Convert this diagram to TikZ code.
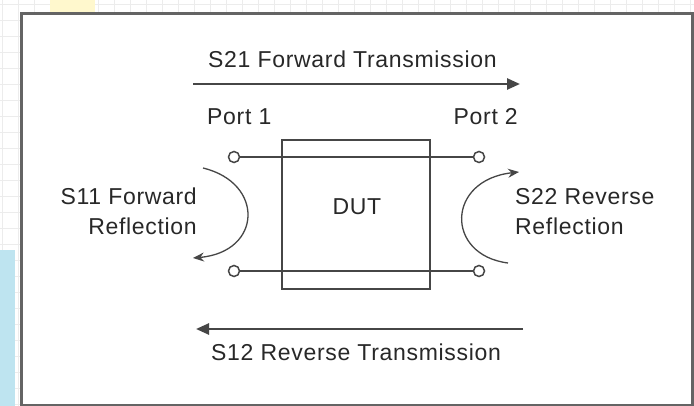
\documentclass[tikz,border=0pt]{standalone}
\usepackage{fontspec}
\setmainfont{Liberation Sans}[LetterSpace=3]
\usetikzlibrary{arrows.meta}
\definecolor{ink}{RGB}{40,40,40}
\definecolor{wire}{RGB}{70,70,70}
\definecolor{framec}{RGB}{100,100,100}
\definecolor{gridc}{RGB}{236,236,236}
\definecolor{paleblue}{RGB}{190,228,240}
\definecolor{paleyellow}{RGB}{255,248,205}
\begin{document}
\begin{tikzpicture}[x=1pt,y=-1pt,
  lbl/.style={font=\fontsize{23}{27}\selectfont, text=ink, inner sep=0pt},
  portc/.style={circle, draw=wire, line width=1.5pt, fill=white, minimum size=11pt, inner sep=0pt},
  wireline/.style={draw=wire, line width=2.5pt},
  bigarrow/.style={draw=wire, line width=2.5pt, -{Triangle[length=13pt,width=11pt]}},
  arcarrow/.style={draw=wire, line width=1.3pt, -{Stealth[length=11pt,width=9pt]}}]
\useasboundingbox (0,0) rectangle (694,406);
\fill[white] (0,0) rectangle (694,406);
\foreach \i in {2,18,...,694} \draw[gridc, line width=0.6pt] (\i,0) -- (\i,406);
\foreach \j in {4,20,...,406} \draw[gridc, line width=0.6pt] (0,\j) -- (694,\j);
\fill[paleyellow] (50,0) rectangle (95,12);
\fill[paleblue] (0,250) rectangle (15,406);
% frame
\fill[white] (21.5,13.5) rectangle (692.5,405.5);
\draw[framec, line width=3pt] (21.5,13.5) rectangle (692.5,405.5);
% DUT box
\node[draw=wire, line width=2.5pt, minimum width=148pt, minimum height=149pt, inner sep=0pt] (dut) at (356,214.5) {};
\node[lbl] (dutlabel) at (357,207) {DUT};
% ports
\node[portc] (p1t) at (234,157) {};
\node[portc] (p2t) at (479,157) {};
\node[portc] (p1b) at (234,271) {};
\node[portc] (p2b) at (479,271) {};
\draw[wireline] (p1t) -- (p2t);
\draw[wireline] (p1b) -- (p2b);
% transmission arrows
\coordinate (a1s) at (193,84);
\coordinate (a1e) at (520,84);
\coordinate (b1s) at (523,329);
\coordinate (b1e) at (196,329);
\draw[bigarrow] (a1s) -- (a1e);
\draw[bigarrow] (b1s) -- (b1e);
% reflection arcs
\coordinate (s11s) at (203,168);
\coordinate (s11e) at (193,258);
\coordinate (s22s) at (508,263);
\coordinate (s22e) at (519,172);
\draw[arcarrow] (s11s) .. controls (265,183) and (262,252) .. (s11e);
\draw[arcarrow] (s22s) .. controls (445,255) and (446,180) .. (s22e);
% labels
\node[lbl, anchor=base west] (t21) at (208,68) {S21 Forward Transmission};
\node[lbl, anchor=base west] (port1) at (207,125) {Port 1};
\node[lbl, anchor=base east] (port2) at (518,125) {Port 2};
\node[lbl, anchor=base east] (t11a) at (197,205) {S11 Forward};
\node[lbl, anchor=base east] (t11b) at (197,235) {Reflection};
\node[lbl, anchor=base west] (t22a) at (515,205) {S22 Reverse};
\node[lbl, anchor=base west] (t22b) at (515,235) {Reflection};
\node[lbl, anchor=base west] (t12) at (211,360) {S12 Reverse Transmission};
\end{tikzpicture}
\end{document}
